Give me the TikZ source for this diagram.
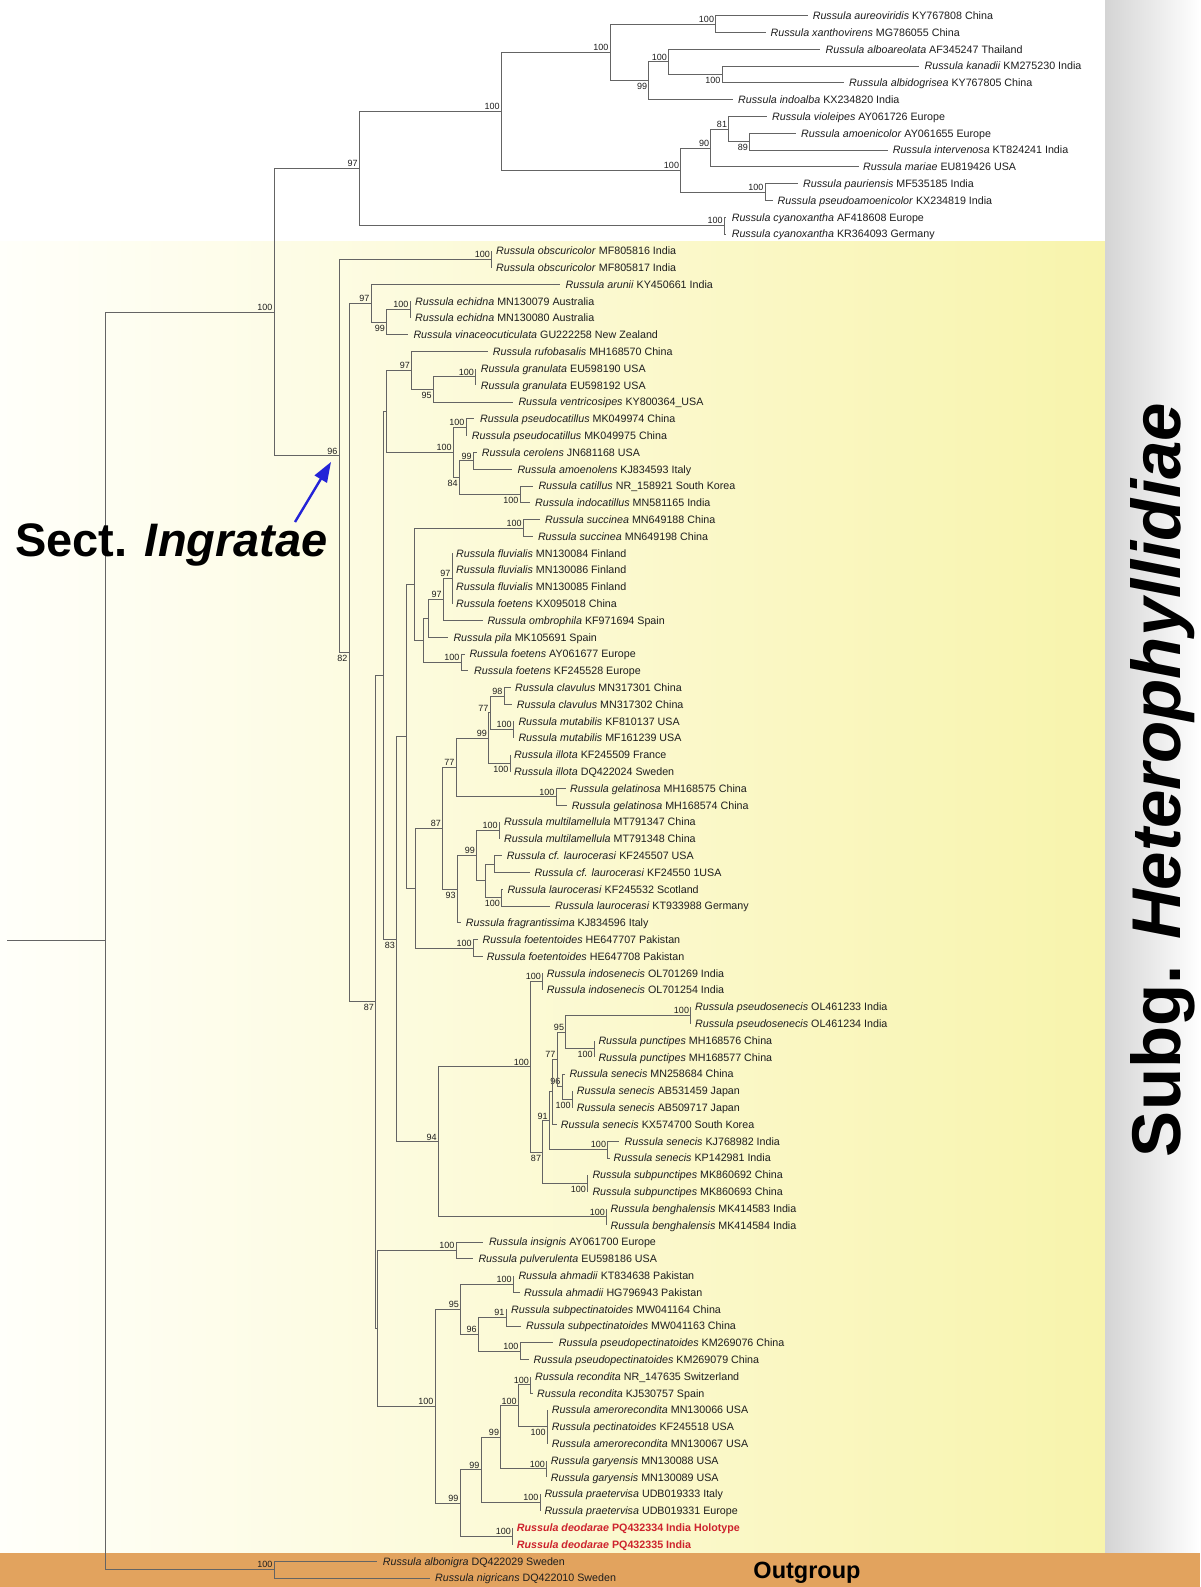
\documentclass[tikz,border=0pt]{standalone}
\usepackage{fontspec}
\setmainfont{Liberation Sans}
\usetikzlibrary{arrows.meta}
\definecolor{linegray}{RGB}{100,100,100}
\definecolor{txt}{RGB}{30,30,30}
\definecolor{yelL}{RGB}{255,255,250}
\definecolor{yelR}{RGB}{248,244,172}
\definecolor{bandgray}{RGB}{212,212,212}
\definecolor{orangeband}{RGB}{226,163,94}
\definecolor{deored}{RGB}{205,35,45}
\definecolor{arrowblue}{RGB}{35,35,215}
\newcommand{\leaffont}{\fontsize{10.7}{12}\selectfont}
\newcommand{\bsfont}{\fontsize{9}{10}\selectfont}
\newcommand{\Rx}[2]{\textit{Russula #1} #2}
\newcommand{\Dx}[1]{\color{deored}\bfseries\textit{Russula deodarae} #1}
\newcommand{\lfx}[5]{\coordinate (e#1) at (#2,#4);\node[leaf] (l#1) at (#3,#4) {#5};}
\newcommand{\ina}[4]{\coordinate (#1) at (#2,#3);\node[bsa] (b#1) at (#1) {#4};}
\newcommand{\inb}[4]{\coordinate (#1) at (#2,#3);\node[bsb] (b#1) at (#1) {#4};}
\newcommand{\inn}[3]{\coordinate (#1) at (#2,#3);}
\newcommand{\tbr}[2]{\draw[brs] (#1) |- (#2);}
\tikzset{
  brs/.style={draw=linegray, line width=1pt},
  leaf/.style={anchor=west, inner sep=0pt, text height=7.5pt, text depth=0pt, font=\leaffont, text=txt},
  bsa/.style={anchor=south east, inner sep=0pt, font=\bsfont, text=txt, xshift=-1.5pt, yshift=1.5pt},
  bsb/.style={anchor=north east, inner sep=0pt, font=\bsfont, text=txt, xshift=-1.5pt, yshift=-2.5pt},
}
\begin{document}
\begin{tikzpicture}[x=1pt,y=-1pt]
\useasboundingbox (0,0) rectangle (1200,1587);
% backgrounds
\fill[white] (0,0) rectangle (1200,1587);
\shade[left color=yelL, right color=yelR] (0,241) rectangle (1105,1553);
\shade[left color=bandgray, right color=white] (1105,0) rectangle (1200,1553);
\fill[orangeband] (0,1553) rectangle (1200,1587);

% ---------- top clade ----------
\ina{A}{715.7}{24.1}{100}
\inb{C}{722}{74.5}{100}
\ina{B}{668.6}{61.9}{100}
\inb{D}{648.8}{80.8}{99}
\ina{E}{610}{52.45}{100}
\inb{G}{749.6}{141.7}{89}
\ina{F}{728.7}{129.1}{81}
\ina{H}{710.8}{148}{90}
\ina{I}{765.1}{192.1}{100}
\ina{J}{680.7}{170.05}{100}
\ina{K}{501.4}{111.25}{100}
\ina{M}{724.4}{225.7}{100}
\ina{L}{359.4}{168.5}{97}
\lfx{1}{807.7}{812.6}{15.7}{\Rx{aureoviridis}{KY767808 China}}
\lfx{2}{765.6}{770.4}{32.5}{\Rx{xanthovirens}{MG786055 China}}
\lfx{3}{819.9}{825.5}{49.3}{\Rx{alboareolata}{AF345247 Thailand}}
\lfx{4}{919.2}{924.5}{66.1}{\Rx{kanadii}{KM275230 India}}
\lfx{5}{844}{849}{82.9}{\Rx{albidogrisea}{KY767805 China}}
\lfx{6}{732.6}{738}{99.7}{\Rx{indoalba}{KX234820 India}}
\lfx{7}{766.5}{772}{116.5}{\Rx{violeipes}{AY061726 Europe}}
\lfx{8}{795.6}{801}{133.3}{\Rx{amoenicolor}{AY061655 Europe}}
\lfx{9}{887.7}{892.6}{150.1}{\Rx{intervenosa}{KT824241 India}}
\lfx{10}{858.6}{863}{166.9}{\Rx{mariae}{EU819426 USA}}
\lfx{11}{798}{802.9}{183.7}{\Rx{pauriensis}{MF535185 India}}
\lfx{12}{772.8}{777.5}{200.5}{\Rx{pseudoamoenicolor}{KX234819 India}}
\lfx{13}{726.4}{731.6}{217.3}{\Rx{cyanoxantha}{AF418608 Europe}}
\lfx{14}{726.4}{731.6}{234.1}{\Rx{cyanoxantha}{KR364093 Germany}}

% ---------- backbone ----------
\inn{root}{105}{940.95}
\coordinate (rs) at (7,940.95);
\ina{R100}{274}{312.2}{100}
\ina{n96}{339}{455.95}{96}
\inb{n82}{349}{652.6}{82}
\ina{Ob}{491.7}{259.3}{100}
\lfx{15}{491.7}{496}{250.9}{\Rx{obscuricolor}{MF805816 India}}
\lfx{16}{491.7}{496}{267.7}{\Rx{obscuricolor}{MF805817 India}}
\ina{n97a}{371}{303.4}{97}
\lfx{17}{560}{565.5}{284.5}{\Rx{arunii}{KY450661 India}}
\inb{n99a}{386.7}{322.3}{99}
\ina{ech}{410}{309.7}{100}
\lfx{18}{410}{415}{301.3}{\Rx{echidna}{MN130079 Australia}}
\lfx{19}{410}{415}{318.1}{\Rx{echidna}{MN130080 Australia}}
\lfx{20}{408.3}{413.3}{334.9}{\Rx{vinaceocuticulata}{GU222258 New Zealand}}
\inb{n87}{375.7}{1001.8}{87}
\inn{X2}{383}{675.3}
\inn{X1}{386}{411.55}
\ina{n97r}{411.7}{370.6}{97}
\lfx{21}{488.3}{492.7}{351.7}{\Rx{rufobasalis}{MH168570 China}}
\inb{n95a}{433.3}{389.5}{95}
\ina{gran}{475.7}{376.9}{100}
\lfx{22}{475.7}{480.7}{368.5}{\Rx{granulata}{EU598190 USA}}
\lfx{23}{475.7}{480.7}{385.3}{\Rx{granulata}{EU598192 USA}}
\lfx{24}{513.3}{518.3}{402.1}{\Rx{ventricosipes}{KY800364\_USA}}
\ina{n100c}{453.3}{452.5}{100}
\ina{pcat}{466}{427.3}{100}
\lfx{25}{474}{480}{418.9}{\Rx{pseudocatillus}{MK049974 China}}
\lfx{26}{466.7}{471.7}{435.7}{\Rx{pseudocatillus}{MK049975 China}}
\inb{n84}{459.3}{477.7}{84}
\ina{n99d}{473.3}{460.9}{99}
\lfx{27}{476.7}{481.7}{452.5}{\Rx{cerolens}{JN681168 USA}}
\lfx{28}{511.7}{517.3}{469.3}{\Rx{amoenolens}{KJ834593 Italy}}
\inb{catp}{520}{494.5}{100}
\lfx{29}{533.3}{538.3}{486.1}{\Rx{catillus}{NR\_158921 South Korea}}
\lfx{30}{530}{535}{502.9}{\Rx{indocatillus}{MN581165 India}}
\inb{n83}{396.7}{939.1}{83}
\inn{Z}{406.7}{736.3}
\inn{N3}{414.3}{584.3}
\ina{succ}{523.3}{528.1}{100}
\lfx{31}{540}{545}{519.7}{\Rx{succinea}{MN649188 China}}
\lfx{32}{533.3}{537.8}{536.5}{\Rx{succinea}{MN649198 China}}
\inn{N2}{423.3}{640.45}
\inn{N1}{428.3}{618.4}
\ina{n97b}{443.3}{599.5}{97}
\ina{fluv}{452}{578.5}{97}
\lfx{33}{452}{456}{553.3}{\Rx{fluvialis}{MN130084 Finland}}
\lfx{34}{452}{456}{570.1}{\Rx{fluvialis}{MN130086 Finland}}
\lfx{35}{452}{456}{586.9}{\Rx{fluvialis}{MN130085 Finland}}
\lfx{36}{452}{456}{603.7}{\Rx{foetens}{KX095018 China}}
\lfx{37}{482.7}{487.3}{620.5}{\Rx{ombrophila}{KF971694 Spain}}
\lfx{38}{448.3}{453.3}{637.3}{\Rx{pila}{MK105691 Spain}}
\ina{foet}{461}{662.5}{100}
\lfx{39}{465}{469.3}{654.1}{\Rx{foetens}{AY061677 Europe}}
\lfx{40}{468.3}{474}{670.9}{\Rx{foetens}{KF245528 Europe}}
\inn{W}{415}{888.25}
\ina{n87p}{442.7}{828.4}{87}
\ina{n77a}{456}{767.5}{77}
\ina{n99c}{488.5}{738.1}{99}
\ina{n77b}{490}{712.9}{77}
\ina{clav}{504}{696.1}{98}
\lfx{41}{510.7}{515}{687.7}{\Rx{clavulus}{MN317301 China}}
\lfx{42}{511.7}{516.7}{704.5}{\Rx{clavulus}{MN317302 China}}
\ina{mut}{513.3}{729.7}{100}
\lfx{43}{513.3}{518.3}{721.3}{\Rx{mutabilis}{KF810137 USA}}
\lfx{44}{513.3}{518.3}{738.1}{\Rx{mutabilis}{MF161239 USA}}
\inb{ill}{510}{763.3}{100}
\lfx{45}{510}{514}{754.9}{\Rx{illota}{KF245509 France}}
\lfx{46}{510}{514}{771.7}{\Rx{illota}{DQ422024 Sweden}}
\ina{gel}{556}{796.9}{100}
\lfx{47}{566}{570}{788.5}{\Rx{gelatinosa}{MH168575 China}}
\lfx{48}{566.7}{571.7}{805.3}{\Rx{gelatinosa}{MH168574 China}}
\inb{n93}{457.3}{889.3}{93}
\ina{n99b}{476.7}{855.7}{99}
\ina{mult}{499.3}{830.5}{100}
\lfx{49}{499.3}{504}{822.1}{\Rx{multilamellula}{MT791347 China}}
\lfx{50}{499.3}{504}{838.9}{\Rx{multilamellula}{MT791348 China}}
\inn{Q}{485}{880.9}
\inn{cfl}{494}{864.1}
\lfx{51}{501.7}{506.7}{855.7}{\Rx{cf. laurocerasi}{KF245507 USA}}
\lfx{52}{530}{534.5}{872.5}{\Rx{cf. laurocerasi}{KF24550 1USA}}
\inb{laur}{501.7}{897.7}{100}
\lfx{53}{503}{507.3}{889.3}{\Rx{laurocerasi}{KF245532 Scotland}}
\lfx{54}{550}{555}{906.1}{\Rx{laurocerasi}{KT933988 Germany}}
\lfx{55}{461}{465.7}{922.9}{\Rx{fragrantissima}{KJ834596 Italy}}
\ina{ftt}{473.3}{948.1}{100}
\lfx{56}{478.3}{482.5}{939.7}{\Rx{foetentoides}{HE647707 Pakistan}}
\lfx{57}{482.7}{486.7}{956.5}{\Rx{foetentoides}{HE647708 Pakistan}}
\ina{n94}{438.3}{1141.9}{94}
\ina{S}{530.7}{1066.9}{100}
\ina{indo}{542.7}{981.7}{100}
\lfx{58}{542.7}{546.7}{973.3}{\Rx{indosenecis}{OL701269 India}}
\lfx{59}{542.7}{546.7}{990.1}{\Rx{indosenecis}{OL701254 India}}
\inb{n87c}{542.7}{1152.05}{87}
\ina{n91}{549.3}{1120.8}{91}
\inn{P}{552.7}{1091.95}
\ina{n77c}{557}{1059.4}{77}
\ina{n95c}{565.7}{1032.1}{95}
\ina{psen}{690.7}{1015.3}{100}
\lfx{60}{690.7}{695}{1006.9}{\Rx{pseudosenecis}{OL461233 India}}
\lfx{61}{690.7}{695}{1023.7}{\Rx{pseudosenecis}{OL461234 India}}
\inb{punc}{594.3}{1048.9}{100}
\lfx{62}{594.3}{598.3}{1040.5}{\Rx{punctipes}{MH168576 China}}
\lfx{63}{594.3}{598.3}{1057.3}{\Rx{punctipes}{MH168577 China}}
\ina{n96c}{562}{1086.7}{96}
\lfx{64}{565}{569.3}{1074.1}{\Rx{senecis}{MN258684 China}}
\inb{AB}{572.3}{1099.3}{100}
\lfx{65}{572.3}{576.7}{1090.9}{\Rx{senecis}{AB531459 Japan}}
\lfx{66}{572.3}{576.7}{1107.7}{\Rx{senecis}{AB509717 Japan}}
\lfx{67}{556.7}{560.7}{1124.5}{\Rx{senecis}{KX574700 South Korea}}
\ina{KJ}{607.7}{1149.7}{100}
\lfx{68}{619.3}{624.5}{1141.3}{\Rx{senecis}{KJ768982 India}}
\lfx{69}{610}{613.5}{1158.1}{\Rx{senecis}{KP142981 India}}
\inb{subp}{587.7}{1183.3}{100}
\lfx{70}{587.7}{592.3}{1174.9}{\Rx{subpunctipes}{MK860692 China}}
\lfx{71}{587.7}{592.3}{1191.7}{\Rx{subpunctipes}{MK860693 China}}
\ina{beng}{606.7}{1216.9}{100}
\lfx{72}{606.7}{610.5}{1208.5}{\Rx{benghalensis}{MK414583 India}}
\lfx{73}{606.7}{610.5}{1225.3}{\Rx{benghalensis}{MK414584 India}}
\inn{Y}{377}{1328.3}
\ina{ins}{456}{1250.5}{100}
\lfx{74}{483.3}{488.8}{1242.1}{\Rx{insignis}{AY061700 Europe}}
\lfx{75}{473.3}{478.3}{1258.9}{\Rx{pulverulenta}{EU598186 USA}}
\ina{n100big}{435}{1406.15}{100}
\ina{n95b}{460.7}{1309.3}{95}
\ina{ahm}{513.3}{1284.1}{100}
\lfx{76}{513.3}{518.3}{1275.7}{\Rx{ahmadii}{KT834638 Pakistan}}
\lfx{77}{520}{524}{1292.5}{\Rx{ahmadii}{HG796943 Pakistan}}
\ina{n96d}{478.3}{1334.5}{96}
\ina{subpec}{506}{1317.7}{91}
\lfx{78}{506}{511}{1309.3}{\Rx{subpectinatoides}{MW041164 China}}
\lfx{79}{520.7}{526}{1326.1}{\Rx{subpectinatoides}{MW041163 China}}
\ina{pspec}{520}{1351.3}{100}
\lfx{80}{553}{558.7}{1342.9}{\Rx{pseudopectinatoides}{KM269076 China}}
\lfx{81}{528.5}{533.5}{1359.7}{\Rx{pseudopectinatoides}{KM269079 China}}
\ina{n99g}{460}{1503.0}{99}
\ina{n99f}{481}{1469.95}{99}
\ina{n99e}{500.7}{1437.4}{99}
\ina{R2}{518.3}{1405.9}{100}
\ina{rec}{530.7}{1384.9}{100}
\lfx{82}{530.7}{535}{1376.5}{\Rx{recondita}{NR\_147635 Switzerland}}
\lfx{83}{532.5}{537}{1393.3}{\Rx{recondita}{KJ530757 Spain}}
\inb{amer}{547.3}{1426.9}{100}
\lfx{84}{547.3}{551.7}{1410.1}{\Rx{amerorecondita}{MN130066 USA}}
\lfx{85}{547.3}{551.7}{1426.9}{\Rx{pectinatoides}{KF245518 USA}}
\lfx{86}{547.3}{551.7}{1443.7}{\Rx{amerorecondita}{MN130067 USA}}
\ina{gary}{546.7}{1468.9}{100}
\lfx{87}{546.7}{550.7}{1460.5}{\Rx{garyensis}{MN130088 USA}}
\lfx{88}{546.7}{550.7}{1477.3}{\Rx{garyensis}{MN130089 USA}}
\ina{prae}{540}{1502.5}{100}
\lfx{89}{540}{544.3}{1494.1}{\Rx{praetervisa}{UDB019333 Italy}}
\lfx{90}{540}{544.3}{1510.9}{\Rx{praetervisa}{UDB019331 Europe}}
\ina{deo}{512.7}{1536.1}{100}
\lfx{91}{512.7}{516.7}{1527.7}{\Dx{PQ432334 India Holotype}}
\lfx{92}{512.7}{516.7}{1544.5}{\Dx{PQ432335 India}}
\ina{O}{274}{1569.7}{100}
\lfx{93}{376.7}{382.7}{1561.3}{\Rx{albonigra}{DQ422029 Sweden}}
\lfx{94}{430}{435}{1578.1}{\Rx{nigricans}{DQ422010 Sweden}}

% ---------- branches ----------
\draw[brs] (rs) -- (root);
\tbr{root}{R100}\tbr{root}{O}
\tbr{R100}{L}\tbr{R100}{n96}
\tbr{L}{K}\tbr{L}{M}
\tbr{K}{E}\tbr{K}{J}
\tbr{E}{A}\tbr{E}{D}
\tbr{A}{e1}\tbr{A}{e2}
\tbr{D}{B}\tbr{D}{e6}
\tbr{B}{e3}\tbr{B}{C}
\tbr{C}{e4}\tbr{C}{e5}
\tbr{J}{H}\tbr{J}{I}
\tbr{H}{F}\tbr{H}{e10}
\tbr{F}{e7}\tbr{F}{G}
\tbr{G}{e8}\tbr{G}{e9}
\tbr{I}{e11}\tbr{I}{e12}
\tbr{M}{e13}\tbr{M}{e14}
\tbr{n96}{Ob}\tbr{n96}{n82}
\tbr{Ob}{e15}\tbr{Ob}{e16}
\tbr{n82}{n97a}\tbr{n82}{n87}
\tbr{n97a}{e17}\tbr{n97a}{n99a}
\tbr{n99a}{ech}\tbr{n99a}{e20}
\tbr{ech}{e18}\tbr{ech}{e19}
\tbr{n87}{X2}\tbr{n87}{Y}
\tbr{X2}{X1}\tbr{X2}{n83}
\tbr{X1}{n97r}\tbr{X1}{n100c}
\tbr{n97r}{e21}\tbr{n97r}{n95a}
\tbr{n95a}{gran}\tbr{n95a}{e24}
\tbr{gran}{e22}\tbr{gran}{e23}
\tbr{n100c}{pcat}\tbr{n100c}{n84}
\tbr{pcat}{e25}\tbr{pcat}{e26}
\tbr{n84}{n99d}\tbr{n84}{catp}
\tbr{n99d}{e27}\tbr{n99d}{e28}
\tbr{catp}{e29}\tbr{catp}{e30}
\tbr{n83}{Z}\tbr{n83}{n94}
\tbr{Z}{N3}\tbr{Z}{W}
\tbr{N3}{succ}\tbr{N3}{N2}
\tbr{succ}{e31}\tbr{succ}{e32}
\tbr{N2}{N1}\tbr{N2}{foet}
\tbr{N1}{n97b}\tbr{N1}{e38}
\tbr{n97b}{fluv}\tbr{n97b}{e37}
\tbr{fluv}{e33}\tbr{fluv}{e34}\tbr{fluv}{e35}\tbr{fluv}{e36}
\tbr{foet}{e39}\tbr{foet}{e40}
\tbr{W}{n87p}\tbr{W}{ftt}
\tbr{n87p}{n77a}\tbr{n87p}{n93}
\tbr{n77a}{n99c}\tbr{n77a}{gel}
\tbr{n99c}{n77b}\tbr{n99c}{ill}
\tbr{n77b}{clav}\tbr{n77b}{mut}
\tbr{clav}{e41}\tbr{clav}{e42}
\tbr{mut}{e43}\tbr{mut}{e44}
\tbr{ill}{e45}\tbr{ill}{e46}
\tbr{gel}{e47}\tbr{gel}{e48}
\tbr{n93}{n99b}\tbr{n93}{e55}
\tbr{n99b}{mult}\tbr{n99b}{Q}
\tbr{mult}{e49}\tbr{mult}{e50}
\tbr{Q}{cfl}\tbr{Q}{laur}
\tbr{cfl}{e51}\tbr{cfl}{e52}
\tbr{laur}{e53}\tbr{laur}{e54}
\tbr{ftt}{e56}\tbr{ftt}{e57}
\tbr{n94}{S}\tbr{n94}{beng}
\tbr{S}{indo}\tbr{S}{n87c}
\tbr{indo}{e58}\tbr{indo}{e59}
\tbr{n87c}{n91}\tbr{n87c}{subp}
\tbr{n91}{P}\tbr{n91}{KJ}
\tbr{P}{n77c}\tbr{P}{e67}
\tbr{n77c}{n95c}\tbr{n77c}{n96c}
\tbr{n95c}{psen}\tbr{n95c}{punc}
\tbr{psen}{e60}\tbr{psen}{e61}
\tbr{punc}{e62}\tbr{punc}{e63}
\tbr{n96c}{e64}\tbr{n96c}{AB}
\tbr{AB}{e65}\tbr{AB}{e66}
\tbr{KJ}{e68}\tbr{KJ}{e69}
\tbr{subp}{e70}\tbr{subp}{e71}
\tbr{beng}{e72}\tbr{beng}{e73}
\tbr{Y}{ins}\tbr{Y}{n100big}
\tbr{ins}{e74}\tbr{ins}{e75}
\tbr{n100big}{n95b}\tbr{n100big}{n99g}
\tbr{n95b}{ahm}\tbr{n95b}{n96d}
\tbr{ahm}{e76}\tbr{ahm}{e77}
\tbr{n96d}{subpec}\tbr{n96d}{pspec}
\tbr{subpec}{e78}\tbr{subpec}{e79}
\tbr{pspec}{e80}\tbr{pspec}{e81}
\tbr{n99g}{n99f}\tbr{n99g}{deo}
\tbr{n99f}{n99e}\tbr{n99f}{prae}
\tbr{n99e}{R2}\tbr{n99e}{gary}
\tbr{R2}{rec}\tbr{R2}{amer}
\tbr{rec}{e82}\tbr{rec}{e83}
\tbr{amer}{e84}\tbr{amer}{e85}\tbr{amer}{e86}
\tbr{gary}{e87}\tbr{gary}{e88}
\tbr{prae}{e89}\tbr{prae}{e90}
\tbr{deo}{e91}\tbr{deo}{e92}
\tbr{O}{e93}\tbr{O}{e94}

% ---------- annotations ----------
\node[anchor=base west, inner sep=0pt, font=\fontsize{47}{50}\selectfont\bfseries, text=black] (sect) at (15,556) {Sect. \textit{Ingratae}};
\coordinate (arrS) at (295,522);
\coordinate (arrT) at (331,462);
\draw[arrowblue, line width=2.4pt, -{Triangle[length=20pt,width=14pt]}] (arrS) -- (arrT);
\node[rotate=90, anchor=base, inner sep=0pt, font=\fontsize{69}{72}\selectfont\bfseries, text=black] (subg) at (1180,780) {Subg. \textit{Heterophyllidiae}};
\node[anchor=base, inner sep=0pt, font=\fontsize{23.5}{26}\selectfont\bfseries, text=black] (outg) at (807,1578) {Outgroup};
\end{tikzpicture}
\end{document}
